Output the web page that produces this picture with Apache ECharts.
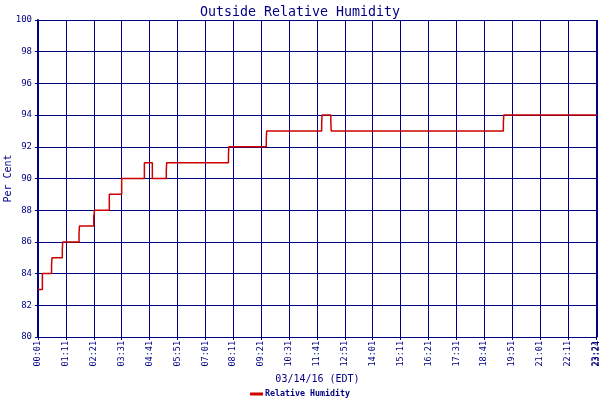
<!DOCTYPE html>
<html>
<head>
<meta charset="utf-8">
<script src="https://cdn.jsdelivr.net/npm/echarts@6/dist/echarts.min.js"></script>
<style>
html,body{margin:0;padding:0;background:#fff;}
#c{width:600px;height:400px;}
</style>
</head>
<body>
<div id="c"></div>
<script>
// minutes after 00:01 on 03/14/16
var minutes = [0, 11, 34, 35, 61, 62, 103, 104, 140, 142, 179, 210, 267, 287, 322, 323, 478, 479, 573, 574, 712, 713, 735, 736, 1168, 1169, 1403];
var humidity = [83, 84, 84.5, 85, 85.5, 86, 86.5, 87, 87.6, 88, 89, 90, 91, 90, 90.5, 91, 91.5, 92, 92.5, 93, 93.5, 94, 93.5, 93, 93.5, 94, 94];
var seriesName = 'Relative Humidity';
var titleText = 'Outside Relative Humidity';
var xName = '03/14/16 (EDT)';
var yName = 'Per Cent';
var endMinute = 1403;

var navy = '#000080';
var mono = '"DejaVu Sans Mono", "Liberation Mono", monospace';

function fmt(m) {
  var t = m + 1;
  var h = Math.floor(t / 60), mm = t % 60;
  return (h < 10 ? '0' : '') + h + ':' + (mm < 10 ? '0' : '') + mm;
}

var data = minutes.map(function (m, i) { return [m, humidity[i]]; });

var labelStyle = {
  rotate: 90,
  margin: 4,
  fontFamily: mono,
  fontSize: 8.5,
  color: navy,
  formatter: function (v) { return fmt(Math.round(v)); }
};

var chart = echarts.init(document.getElementById('c'));
chart.setOption({
  animation: false,
  backgroundColor: '#fff',
  title: {
    text: titleText,
    left: 'center',
    top: 1,
    textStyle: { fontFamily: mono, fontSize: 13.3, fontWeight: 'normal', color: navy }
  },
  legend: {
    bottom: -3,
    left: 'center',
    icon: 'rect',
    itemWidth: 13,
    itemHeight: 3,
    itemGap: 4,
    textStyle: { fontFamily: mono, fontSize: 8.3, fontWeight: 'bold', color: navy, padding: [0, 0, 0, -3] },
    data: [seriesName]
  },
  grid: { left: 38, right: 3, top: 20, bottom: 63, show: false, containLabel: false, outerBoundsMode: 'none' },
  xAxis: [{
    type: 'value',
    min: 0,
    max: endMinute,
    interval: 70,
    name: xName,
    nameLocation: 'middle',
    nameGap: 37,
    nameMoveOverlap: false,
    nameTextStyle: { fontFamily: mono, fontSize: 10, color: navy },
    axisLine: { show: true, lineStyle: { color: navy, width: 1 } },
    axisTick: { show: true, length: 3, lineStyle: { color: navy } },
    axisLabel: Object.assign({ showMaxLabel: false, showMinLabel: true, hideOverlap: false }, labelStyle),
    splitLine: { show: true, lineStyle: { color: navy, width: 1 } }
  }, {
    type: 'value',
    position: 'bottom',
    min: 0,
    max: endMinute,
    axisLine: { show: false },
    axisTick: { show: false },
    splitLine: { show: false },
    axisLabel: Object.assign({ customValues: [endMinute], showMaxLabel: true }, labelStyle)
  }],
  yAxis: {
    type: 'value',
    min: 80,
    max: 100,
    interval: 2,
    name: yName,
    nameLocation: 'middle',
    nameGap: 25,
    nameMoveOverlap: false,
    nameTextStyle: { fontFamily: mono, fontSize: 10, color: navy },
    axisLine: { show: true, lineStyle: { color: navy, width: 2 } },
    axisTick: { show: true, length: 3, lineStyle: { color: navy } },
    axisLabel: { margin: 6, fontFamily: mono, fontSize: 9, color: navy },
    splitLine: { show: true, lineStyle: { color: navy, width: 1 } }
  },
  series: [{
    name: seriesName,
    type: 'line',
    step: 'end',
    showSymbol: false,
    symbol: 'none',
    data: data,
    color: '#cc0000',
    lineStyle: { color: '#cc0000', width: 1.5 }
  }]
});
</script>
</body>
</html>
